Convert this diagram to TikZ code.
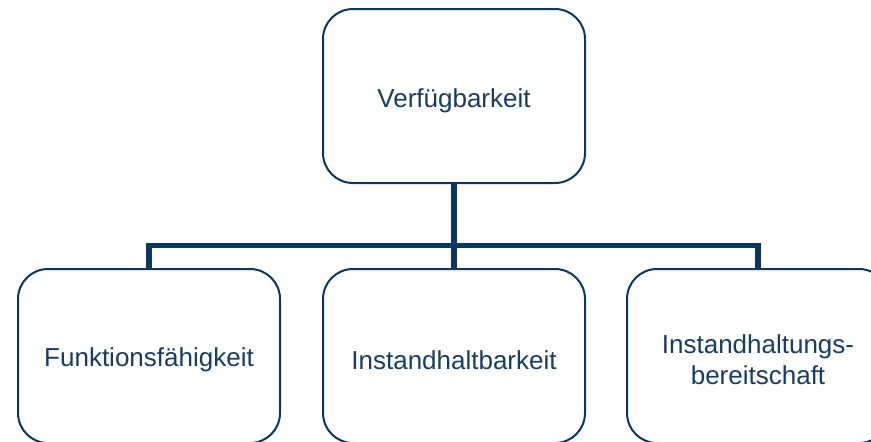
\documentclass[tikz,border=0pt]{standalone}
\usepackage{fontspec}
\setmainfont{Liberation Sans}
\definecolor{navy}{RGB}{8,56,96}
\definecolor{navytext}{RGB}{24,60,98}
\begin{document}
\begin{tikzpicture}[x=0.5pt,y=-0.5pt,
  box/.style={draw=navy, line width=1pt, rounded corners=15pt, fill=white,
    minimum width=131pt, minimum height=87pt, inner sep=0pt},
  lbl/.style={text=navytext, font=\fontsize{13}{15.5}\selectfont, align=center, inner sep=0pt},
  link/.style={draw=navy, line width=2.8pt, line join=miter}]
  \useasboundingbox (0,0) rectangle (871,441);
  \clip (0,0) rectangle (871,441);
  \fill[white] (0,0) rectangle (871,441);

  % the four boxes
  \node[box] (top)   at (454,96)  {};
  \node[box] (left)  at (149,356) {};
  \node[box] (mid)   at (454,356) {};
  \node[box] (right) at (758,356) {};

  % their labels, set a little below the box centres
  \node[lbl] (topt)   at ([yshift=-2.5pt]top.center)   {Verfügbarkeit};
  \node[lbl] (leftt)  at ([yshift=-2pt]left.center)    {Funktionsfähigkeit};
  \node[lbl] (midt)   at ([yshift=-2pt]mid.center)     {Instandhaltbarkeit};
  \node[lbl] (rightt) at ([yshift=-2pt]right.center)   {Instandhaltungs-\\bereitschaft};

  % tree connectors
  \coordinate (bus) at (454,245.5);
  \draw[link] (top.south) -- (mid.north);
  \draw[link] (left.north) |- (bus) -| (right.north);
\end{tikzpicture}
\end{document}
